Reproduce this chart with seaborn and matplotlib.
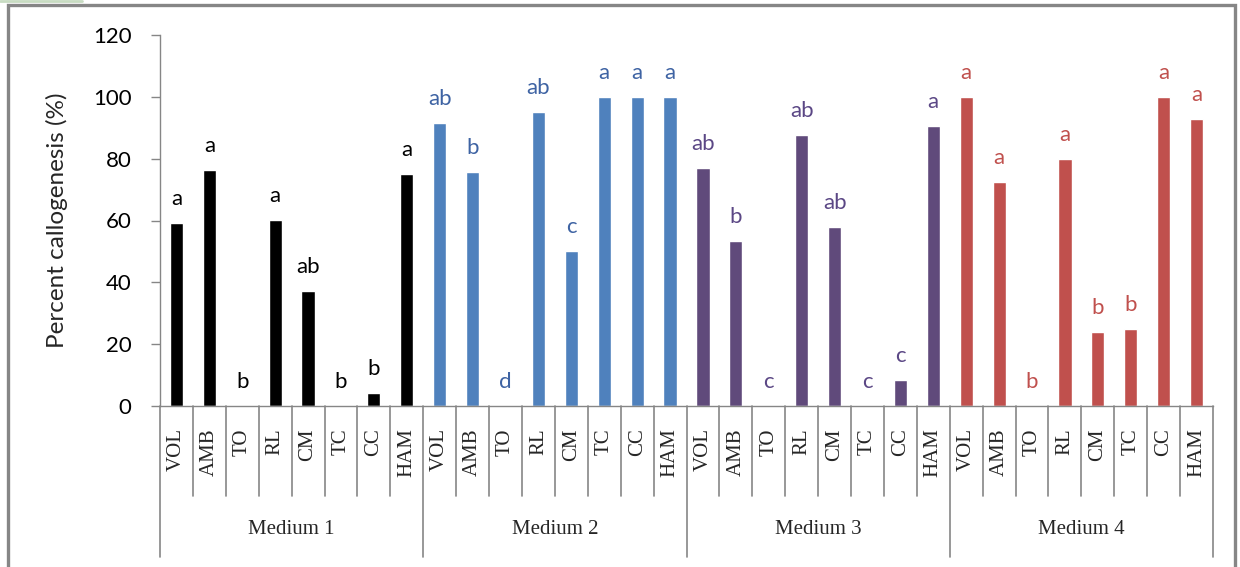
import matplotlib
matplotlib.use("Agg")
import matplotlib.pyplot as plt
from matplotlib.patches import Rectangle
from matplotlib.lines import Line2D
import seaborn as sns
import pandas as pd

# Explants and media
explants = ["VOL", "AMB", "TO", "RL", "CM", "TC", "CC", "HAM"]
media = ["Medium 1", "Medium 2", "Medium 3", "Medium 4"]

# Percent callogenesis per explant, one list per medium
medium1 = [59.2, 76.3, 0, 60.2, 37.2, 0, 4.2, 75.0]
medium2 = [91.5, 75.7, 0, 95.0, 50.0, 100, 100, 100]
medium3 = [77.0, 53.4, 0, 87.6, 58.0, 0, 8.4, 90.6]
medium4 = [100, 72.4, 0, 80.0, 24.0, 25.0, 100, 92.8]

# Significance letters
letters1 = ["a", "a", "b", "a", "ab", "b", "b", "a"]
letters2 = ["ab", "b", "d", "ab", "c", "a", "a", "a"]
letters3 = ["ab", "b", "c", "ab", "ab", "c", "c", "a"]
letters4 = ["a", "a", "b", "a", "b", "b", "a", "a"]

bar_colors = ["#000000", "#4F81BD", "#604A7B", "#C0504D"]
letter_colors = ["#000000", "#3E63A3", "#5B4785", "#C0504D"]

values = [medium1, medium2, medium3, medium4]
letters = [letters1, letters2, letters3, letters4]

rows = []
for m, vals, lets in zip(media, values, letters):
    for e, v, l in zip(explants, vals, lets):
        rows.append({"key": f"{m}|{e}", "explant": e, "medium": m,
                     "value": v, "letter": l})
df = pd.DataFrame(rows)

sns.set_style("white")
plt.rcParams["font.family"] = ["Lato", "DejaVu Sans"]

fig = plt.figure(figsize=(12.4, 5.67), dpi=100)
W, H = 1240, 567
ax = fig.add_axes([160 / W, 1 - 406 / H, 1053 / W, 371 / H])

sns.barplot(data=df, x="key", y="value", hue="medium", order=list(df["key"]),
            hue_order=media, palette=bar_colors, dodge=False, width=0.4,
            saturation=1, legend=False, ax=ax)

ax.set_xlim(-0.5, len(df) - 0.5)
ax.set_ylim(0, 120)
ax.set_yticks(range(0, 121, 20))
ax.tick_params(axis="y", labelsize=16, length=6.5, width=1, color="#868686",
               labelcolor="#000000", pad=14, left=True, direction="out")
ax.set_xlabel("")
ax.set_ylabel("Percent callogenesis (%)", fontsize=17.5)
ax.yaxis.set_label_coords(-0.087, 0.5)

ax.set_xticks(range(len(df)))
ax.set_xticklabels(df["explant"], rotation=90, fontsize=15,
                   family="Liberation Serif", va="top", ha="center")
ax.tick_params(axis="x", length=0, pad=16)

for side in ["top", "right"]:
    ax.spines[side].set_visible(False)
for side in ["left", "bottom"]:
    ax.spines[side].set_color("#868686")
    ax.spines[side].set_linewidth(1)

# Letters above bars
for i, r in df.iterrows():
    c = letter_colors[media.index(r["medium"])]
    ax.text(i, r["value"] + 5.8, r["letter"], ha="center", va="baseline",
            fontsize=16, color=c)

# Category and group separators under the axis
tr = ax.get_xaxis_transform()
short_y = (406 - 496) / 371
long_y = (406 - 557) / 371
n_per = len(explants)
for k in range(len(df) + 1):
    x = k - 0.5
    y1 = long_y if k % n_per == 0 else short_y
    ax.add_line(Line2D([x, x], [0, y1], transform=tr, color="#868686",
                       lw=1.2, clip_on=False))

for g, m in enumerate(media):
    xc = g * n_per + (n_per - 1) / 2
    ax.text(xc, (406 - 530) / 371, m, transform=tr, ha="center",
            va="center", fontsize=15, family="Liberation Serif")

# Outer frame
fig.add_artist(Rectangle((8 / W, -0.05), (1235 - 8) / W, 1.05 - 5 / H,
                         transform=fig.transFigure, fill=False,
                         edgecolor="#868686", lw=2.4, clip_on=False))
fig.add_artist(Line2D([0, 82 / W], [1 - 1 / H, 1 - 1 / H],
                      transform=fig.transFigure, color="#C8DCC2", lw=2))

fig.savefig("out.png", dpi=100)
